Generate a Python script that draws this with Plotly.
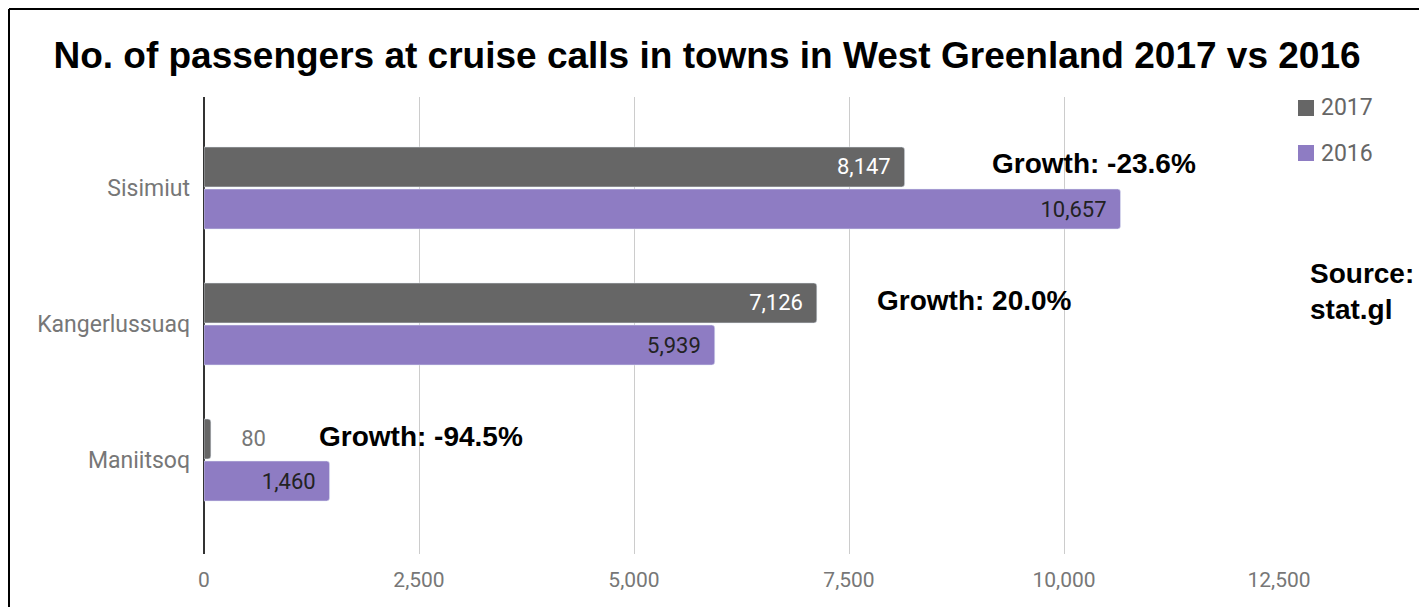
import plotly.graph_objects as go

towns = ["Sisimiut", "Kangerlussuaq", "Maniitsoq"]
values_2017 = [8147, 7126, 80]
values_2016 = [10657, 5939, 1460]
growth_labels = ["Growth: -23.6%", "Growth: 20.0%", "Growth: -94.5%"]
x_ticks = [0, 2500, 5000, 7500, 10000, 12500]

W, H = 1419, 607
L, R, T, B = 204, 1279, 97, 554
pw, ph = R - L, B - T
C2017, C2016 = "#666666", "#8e7cc3"

def px(x):
    return (x - L) / pw

def py(y):
    return (B - y) / ph

fig = go.Figure()
fig.add_trace(go.Bar(
    y=towns, x=values_2017, orientation="h", name="2017",
    marker=dict(color=C2017, cornerradius=3),
    text=[f"{v:,}  " if v > 1000 else f"     {v:,}" for v in values_2017],
    textposition=["inside" if v > 1000 else "outside" for v in values_2017],
    insidetextanchor="end",
    textfont=dict(family="Roboto", size=22,
                  color=["white" if v > 1000 else "#777777" for v in values_2017]),
    cliponaxis=False, showlegend=False, hoverinfo="skip",
))
fig.add_trace(go.Bar(
    y=towns, x=values_2016, orientation="h", name="2016",
    marker=dict(color=C2016, cornerradius=3),
    text=[f"{v:,}  " for v in values_2016],
    textposition="inside", insidetextanchor="end",
    textfont=dict(family="Roboto", size=22, color="#222222"),
    cliponaxis=False, showlegend=False, hoverinfo="skip",
))

# growth annotations
ann_pos = [(990, 163), (875, 300), (317, 436)]
annotations = []
for (ax, ay), t in zip(ann_pos, growth_labels):
    annotations.append(dict(
        x=px(ax), y=py(ay), xref="paper", yref="paper", text="<b>" + t + "</b>", showarrow=False,
        xanchor="left", yanchor="middle",
        font=dict(family="Liberation Sans", size=28, color="black")))
annotations.append(dict(
    x=px(1308), y=py(291), xref="paper", yref="paper", text="<b>Source:<br>stat.gl</b>",
    showarrow=False, xanchor="left", yanchor="middle", align="left",
    font=dict(family="Liberation Sans", size=28, color="black")))

shapes = [
    dict(type="line", xref="paper", yref="paper", x0=px(9), x1=px(W + 5), y0=py(9), y1=py(9),
         line=dict(color="black", width=2)),
    dict(type="line", xref="paper", yref="paper", x0=px(9), x1=px(9), y0=py(9), y1=py(H + 5),
         line=dict(color="black", width=2)),
]

# legend drawn manually
legend_items = [("2017", C2017, 108), ("2016", C2016, 153)]
for name, col, cy in legend_items:
    shapes.append(dict(type="rect", xref="paper", yref="paper",
                       x0=px(1298), x1=px(1314), y0=py(cy - 8), y1=py(cy + 8),
                       fillcolor=col, line=dict(width=0)))
    annotations.append(dict(x=px(1319), y=py(cy), xref="paper", yref="paper", text=name,
                            showarrow=False, xanchor="left", yanchor="middle",
                            font=dict(family="Roboto", size=23, color="#666666")))

cat_top = (T - 188) / 136
cat_bot = (B - 188) / 136

fig.update_layout(
    width=W, height=H,
    margin=dict(l=L, r=W - R, t=T, b=H - B, pad=0),
    paper_bgcolor="white", plot_bgcolor="white",
    title=dict(text="<b>No. of passengers at cruise calls in towns in West Greenland 2017 vs 2016</b>",
               x=707 / W, xanchor="center", y=1 - 55 / H, yanchor="middle", xref="container", yref="container",
               font=dict(family="Liberation Sans", size=37, color="black")),
    barmode="group", bargap=0.382, bargroupgap=0.05,
    xaxis=dict(range=[0, 12500], tickvals=x_ticks, ticktext=[f"{v:,}" for v in x_ticks],
               showgrid=True, gridcolor="#cccccc", gridwidth=1,
               zeroline=True, zerolinecolor="#333333", zerolinewidth=2,
               tickfont=dict(family="Roboto", size=21, color="#777777"),
               ticks="", ticklabelstandoff=11, showline=False, fixedrange=True),
    yaxis=dict(type="category", categoryarray=towns, range=[cat_bot, cat_top],
               tickfont=dict(family="Roboto", size=23, color="#777777"),
               ticks="", ticklabelstandoff=13, showgrid=False, zeroline=False, showline=False),
    showlegend=False,
    annotations=annotations, shapes=shapes,
)

fig.write_html("out.html")
